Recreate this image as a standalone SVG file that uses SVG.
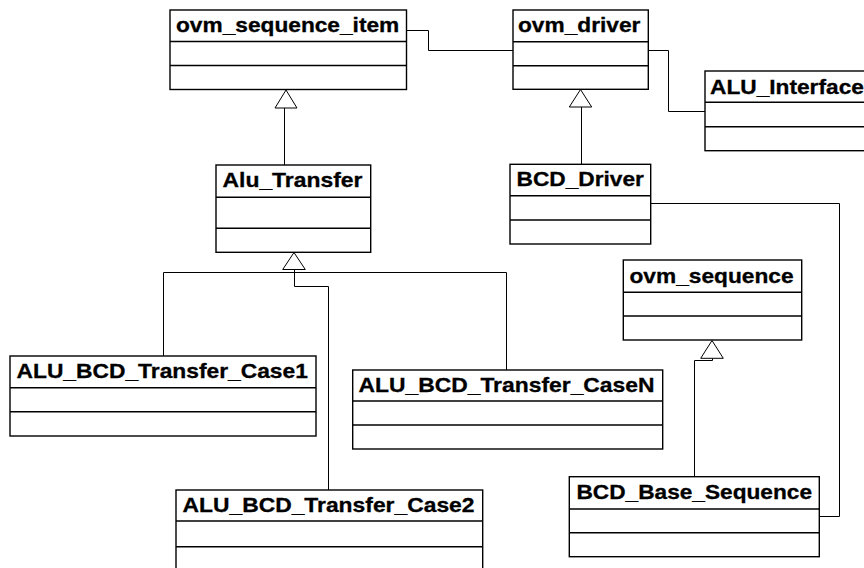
<svg xmlns="http://www.w3.org/2000/svg" width="864" height="568" viewBox="0 0 864 568">
  <style>
    .box { fill: #ffffff; stroke: #000000; stroke-width: 1.4; }
    .sep { stroke: #000000; stroke-width: 1.4; }
    .name { font-family: "Liberation Sans", Arial, sans-serif; font-weight: bold; font-size: 20.5px; fill: #000000; stroke: #000000; stroke-width: 0.3; }
    .link { fill: none; stroke: #000000; stroke-width: 1; }
    .gen { fill: #ffffff; stroke: #000000; stroke-width: 1; }
  </style>
  <rect width="864" height="568" fill="#ffffff"/>

  <!-- connectors: associations and generalizations -->
  <g id="connectors">
    <path class="link" d="M406.5,30.5 H428.5 V50.5 H513"/>
    <path class="link" d="M648.5,50.5 H668.5 V111.5 H705"/>
    <path class="link" d="M650.7,203.5 H839.5 V516.5 H819.3"/>
    <!-- Alu_Transfer extends ovm_sequence_item -->
    <path class="link" d="M284.5,165 V108"/>
    <polygon class="gen" points="286,90 297,108 275,108"/>
    <!-- BCD_Driver extends ovm_driver -->
    <path class="link" d="M581.5,164.3 V107"/>
    <polygon class="gen" points="580.5,89.5 591.7,107 569.3,107"/>
    <!-- transfer cases extend Alu_Transfer -->
    <path class="link" d="M163.5,356 V272.5 H506.5 V370"/>
    <path class="link" d="M294.5,269.5 V286.5 H328.5 V490"/>
    <polygon class="gen" points="294,252.5 305.3,269.5 282.7,269.5"/>
    <!-- BCD_Base_Sequence extends ovm_sequence -->
    <path class="link" d="M712.5,358.3 V360.5 H694.5 V476.7"/>
    <polygon class="gen" points="712,340.5 723.3,358.3 700.7,358.3"/>
  </g>

  <g id="ovm_sequence_item">
    <rect class="box" x="170" y="10" width="236.5" height="79.5"/>
    <line class="sep" x1="170" y1="41.5" x2="406.5" y2="41.5"/>
    <line class="sep" x1="170" y1="65.5" x2="406.5" y2="65.5"/>
    <text class="name" x="176" y="32.3" textLength="223.3" lengthAdjust="spacingAndGlyphs">ovm_sequence_item</text>
  </g>

  <g id="ovm_driver">
    <rect class="box" x="513" y="10" width="135.3" height="79.3"/>
    <line class="sep" x1="513" y1="41.7" x2="648.3" y2="41.7"/>
    <line class="sep" x1="513" y1="65.7" x2="648.3" y2="65.7"/>
    <text class="name" x="518" y="32.3" textLength="122.4" lengthAdjust="spacingAndGlyphs">ovm_driver</text>
  </g>

  <g id="ALU_Interface">
    <rect class="box" x="705" y="71" width="170" height="79.7"/>
    <line class="sep" x1="705" y1="102.3" x2="875" y2="102.3"/>
    <line class="sep" x1="705" y1="126.7" x2="875" y2="126.7"/>
    <text class="name" x="710" y="93.5" textLength="153.9" lengthAdjust="spacingAndGlyphs">ALU_Interface</text>
  </g>

  <g id="Alu_Transfer">
    <rect class="box" x="216" y="165" width="154.7" height="87.3"/>
    <line class="sep" x1="216" y1="197.3" x2="370.7" y2="197.3"/>
    <line class="sep" x1="216" y1="228.3" x2="370.7" y2="228.3"/>
    <text class="name" x="222.5" y="186.7" textLength="140" lengthAdjust="spacingAndGlyphs">Alu_Transfer</text>
  </g>

  <g id="BCD_Driver">
    <rect class="box" x="510" y="164.3" width="140.7" height="79.7"/>
    <line class="sep" x1="510" y1="195.7" x2="650.7" y2="195.7"/>
    <line class="sep" x1="510" y1="220" x2="650.7" y2="220"/>
    <text class="name" x="516.5" y="186.2" textLength="127.4" lengthAdjust="spacingAndGlyphs">BCD_Driver</text>
  </g>

  <g id="ovm_sequence">
    <rect class="box" x="623.3" y="260" width="178.4" height="80"/>
    <line class="sep" x1="623.3" y1="292.3" x2="801.7" y2="292.3"/>
    <line class="sep" x1="623.3" y1="316" x2="801.7" y2="316"/>
    <text class="name" x="629.5" y="283" textLength="164" lengthAdjust="spacingAndGlyphs">ovm_sequence</text>
  </g>

  <g id="ALU_BCD_Transfer_Case1">
    <rect class="box" x="10" y="356" width="306" height="80"/>
    <line class="sep" x1="10" y1="387.7" x2="316" y2="387.7"/>
    <line class="sep" x1="10" y1="411.7" x2="316" y2="411.7"/>
    <text class="name" x="16.5" y="377.7" textLength="291.4" lengthAdjust="spacingAndGlyphs">ALU_BCD_Transfer_Case1</text>
  </g>

  <g id="ALU_BCD_Transfer_CaseN">
    <rect class="box" x="352.7" y="370" width="310" height="79"/>
    <line class="sep" x1="352.7" y1="401" x2="662.7" y2="401"/>
    <line class="sep" x1="352.7" y1="425" x2="662.7" y2="425"/>
    <text class="name" x="358.5" y="392" textLength="296" lengthAdjust="spacingAndGlyphs">ALU_BCD_Transfer_CaseN</text>
  </g>

  <g id="ALU_BCD_Transfer_Case2">
    <rect class="box" x="176" y="490" width="306.7" height="81"/>
    <line class="sep" x1="176" y1="521" x2="482.7" y2="521"/>
    <line class="sep" x1="176" y1="546.7" x2="482.7" y2="546.7"/>
    <text class="name" x="182.5" y="511.7" textLength="292" lengthAdjust="spacingAndGlyphs">ALU_BCD_Transfer_Case2</text>
  </g>

  <g id="BCD_Base_Sequence">
    <rect class="box" x="569.3" y="476.7" width="250" height="80"/>
    <line class="sep" x1="569.3" y1="509" x2="819.3" y2="509"/>
    <line class="sep" x1="569.3" y1="532.7" x2="819.3" y2="532.7"/>
    <text class="name" x="576.5" y="499" textLength="235.5" lengthAdjust="spacingAndGlyphs">BCD_Base_Sequence</text>
  </g>
</svg>
